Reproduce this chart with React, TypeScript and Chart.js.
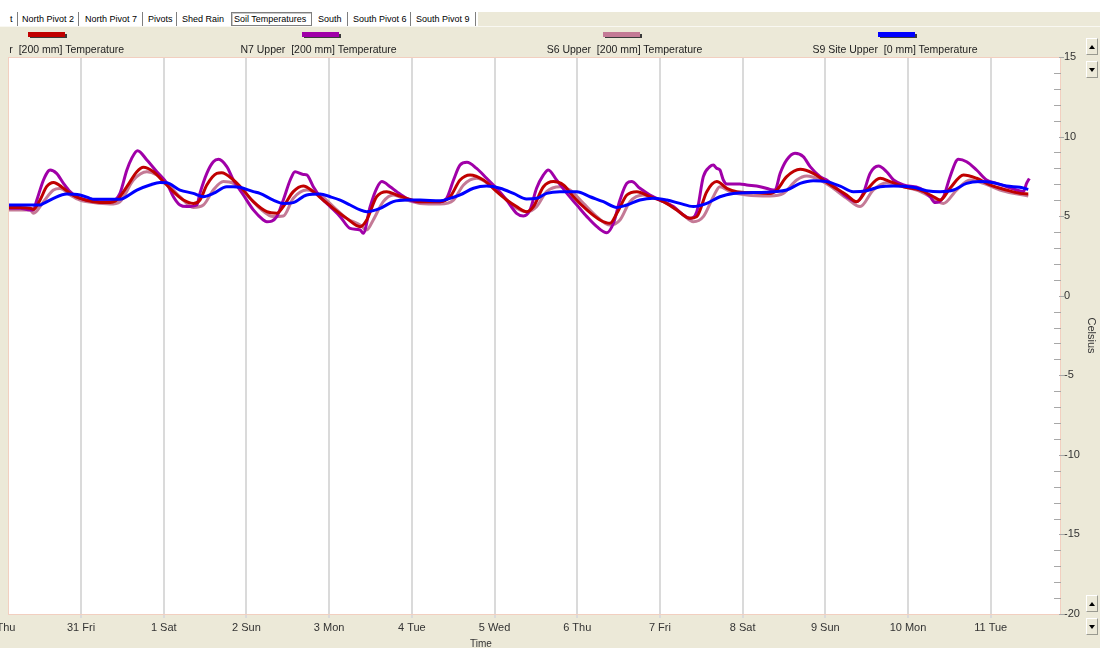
import React, { useEffect, useRef } from 'react';
import { Chart, registerables } from 'chart.js';

Chart.register(...registerables);

// ---------- data ----------
const xTickLabels = ['30 Thu', '31 Fri', '1 Sat', '2 Sun', '3 Mon', '4 Tue', '5 Wed', '6 Thu', '7 Fri', '8 Sat', '9 Sun', '10 Mon', '11 Tue'];
const dayHours = [0, 24, 48, 72, 96, 120, 144, 168, 192, 216, 240, 264, 288];
const yTickValues = [-20, -15, -10, -5, 0, 5, 10, 15];

const seriesNames = [
  'N2 Upper  [200 mm] Temperature',
  'N7 Upper  [200 mm] Temperature',
  'S6 Upper  [200 mm] Temperature',
  'S9 Site Upper  [0 mm] Temperature',
];

// [hour since 30 Thu 00:00, Celsius]
const n2Upper: [number, number][] = [
  [2, 5.55], [6.3, 5.55], [9.2, 5.5], [10.2, 5.43], [12.1, 6.01], [14.0, 6.85], [16.0, 7.12], [18.9, 6.75], [20.8, 6.43], [23.7, 6.12],
  [27.6, 5.91], [31.5, 5.85], [34.4, 6.01], [37.3, 6.85], [40.2, 7.79], [42.1, 8.07], [45.0, 7.79], [47.9, 7.17], [50.8, 6.54], [53.7, 6.01],
  [56.6, 5.8], [58.5, 6.01], [60.5, 6.96], [63.4, 7.69], [64.8, 7.73], [68.2, 7.27], [71.1, 6.64], [74.0, 5.91], [77.9, 5.28], [80.8, 5.18],
  [82.7, 5.6], [85.6, 6.54], [88.5, 6.89], [91.4, 6.54], [94.3, 6.01], [97.2, 5.49], [101.1, 4.86], [105.0, 4.34],
  [106.9, 4.76], [109.8, 6.22], [112.7, 6.54], [115.6, 6.33], [118.5, 6.12], [122.4, 5.91], [128.2, 5.91], [131.1, 6.22], [134.0, 7.27], [136.9, 7.59],
  [140.8, 7.27], [144.6, 6.54], [147.5, 6.01], [150.4, 5.6], [153.3, 5.28], [155.3, 5.6], [158.2, 6.85], [161.1, 7.17], [164.0, 6.96], [166.9, 6.22],
  [170.8, 5.39], [174.6, 4.76], [177.5, 4.55], [179.5, 5.18], [182.4, 6.33], [185.3, 6.54], [189.1, 6.22], [193.0, 5.91], [196.9, 5.39], [200.7, 4.86],
  [202.7, 4.97], [205.6, 6.54], [208.5, 7.17], [211.4, 6.75], [214.3, 6.54], [219.1, 6.48], [224.0, 6.43], [225.9, 6.64], [228.8, 7.48], [232.7, 7.94],
  [236.5, 7.69], [239.4, 7.27], [242.3, 6.85], [246.2, 6.33], [249.1, 5.91], [252.0, 6.64], [255.9, 7.38], [258.8, 7.17], [262.7, 6.85], [267.5, 6.64],
  [271.4, 6.22], [273.3, 6.01], [276.2, 6.75], [280.1, 7.59], [283.9, 7.38], [287.8, 6.96], [292.6, 6.64], [296.5, 6.43], [298.9, 6.39],
];

const n7Upper: [number, number][] = [
  [2, 5.5], [6.3, 5.49], [9.2, 5.39], [10.2, 5.39], [11.1, 5.97], [13.1, 7.27], [14.5, 7.84], [15.0, 7.9], [16.9, 7.69], [18.9, 7.06],
  [20.8, 6.54], [22.7, 6.22], [25.7, 6.01], [29.5, 5.91], [32.4, 5.91], [33.9, 6.01], [35.3, 6.43], [37.3, 7.9], [38.7, 8.63], [40.4, 9.11],
  [43.1, 8.53], [46.0, 7.79], [48.9, 7.06], [50.8, 6.22], [52.7, 5.7], [54.7, 5.6], [57.6, 5.7], [58.5, 6.43], [60.5, 7.69], [62.4, 8.42],
  [63.9, 8.57], [66.3, 8.11], [68.2, 7.27], [71.1, 6.33], [74.0, 5.39], [76.9, 4.76], [77.9, 4.65], [80.8, 4.97], [82.7, 6.01], [84.7, 7.27],
  [86.1, 7.79], [88.5, 7.62], [89.5, 7.59], [91.4, 6.85], [93.4, 6.22], [96.3, 5.6], [99.2, 4.97], [102.1, 4.23], [105.0, 4.13], [105.9, 3.92],
  [107.9, 5.6], [109.8, 6.75], [111.3, 7.17], [113.7, 6.85], [115.6, 6.54], [118.5, 6.12], [121.4, 5.91], [124.3, 5.91], [128.2, 5.91], [130.1, 6.12],
  [132.1, 7.27], [134.0, 8.21], [136.0, 8.38], [138.8, 8.0], [141.7, 7.38], [144.6, 6.75], [147.5, 6.01], [150.4, 5.18], [152.4, 5.01], [154.3, 5.39],
  [156.2, 6.75], [158.2, 7.59], [159.6, 7.9], [162.0, 7.27], [165.0, 6.43], [167.9, 5.7], [170.8, 4.97], [173.7, 4.34], [176.6, 3.96], [178.5, 4.55],
  [180.4, 6.01], [182.4, 7.06], [183.8, 7.17], [186.2, 6.75], [189.1, 6.33], [192.0, 6.01], [195.9, 5.6], [198.8, 5.07], [200.7, 4.86], [202.7, 5.28],
  [204.6, 7.48], [206.5, 8.11], [207.5, 8.21], [208.5, 8.0], [209.4, 7.9], [210.4, 7.27], [211.4, 7.02], [215.2, 7.02], [217.2, 6.96], [221.1, 6.85],
  [224.0, 6.68], [225.4, 6.64], [226.9, 7.69], [228.8, 8.53], [231.2, 8.95], [233.6, 8.74], [235.6, 8.11], [238.5, 7.48], [240.4, 7.27], [243.3, 6.75],
  [246.2, 6.22], [249.1, 5.91], [251.0, 6.43], [253.0, 7.69], [255.4, 8.15], [257.8, 7.79], [259.8, 7.27], [262.7, 6.96], [267.5, 6.75], [270.4, 6.22],
  [271.9, 5.85], [274.3, 6.22], [276.2, 7.48], [278.6, 8.57], [281.0, 8.42], [283.9, 7.9], [286.8, 7.27], [289.7, 7.06], [292.6, 6.85], [295.5, 6.64],
  [297.5, 6.54], [298.4, 7.06], [299.2, 7.37],
];

const s6Upper: [number, number][] = [
  [2, 5.39], [6.3, 5.39], [9.2, 5.39], [10.2, 5.18], [13.1, 5.91], [16.0, 6.64], [17.9, 6.73], [20.8, 6.33], [23.7, 6.01], [27.6, 5.85],
  [32.4, 5.76], [35.3, 5.91], [39.2, 7.27], [43.1, 7.79], [46.0, 7.59], [48.9, 7.06], [52.7, 6.22], [56.6, 5.55], [59.5, 5.7], [62.4, 6.64],
  [65.3, 7.17], [68.2, 7.06], [72.1, 6.33], [75.9, 5.49], [79.8, 4.97], [82.7, 5.01], [85.6, 6.12], [89.5, 6.64], [93.4, 6.33], [97.2, 5.6],
  [101.1, 4.86], [105.0, 4.44], [106.9, 4.13], [108.8, 4.76], [111.7, 5.91], [114.6, 6.33], [118.5, 6.01], [122.4, 5.8], [128.2, 5.76], [132.1, 6.01],
  [135.0, 6.96], [138.8, 7.38], [142.7, 6.96], [146.6, 6.22], [150.4, 5.49], [153.3, 5.28], [156.2, 5.6], [159.1, 6.54], [163.0, 6.85], [165.9, 6.64],
  [169.8, 5.8], [173.7, 4.97], [177.5, 4.44], [180.4, 4.76], [183.3, 5.91], [187.2, 6.33], [191.1, 6.12], [194.9, 5.7], [198.8, 5.07], [201.7, 4.65],
  [204.6, 4.97], [207.5, 6.22], [209.4, 6.85], [212.3, 6.54], [217.2, 6.33], [224.0, 6.27], [227.8, 6.43], [231.7, 7.27], [234.6, 7.52], [238.5, 7.27],
  [242.3, 6.75], [246.2, 6.12], [250.1, 5.6], [253.9, 6.64], [257.8, 7.1], [261.7, 6.89], [266.5, 6.64], [271.4, 6.12], [274.3, 5.8], [278.1, 6.64],
  [282.0, 7.27], [285.9, 7.06], [290.7, 6.64], [294.6, 6.43], [298.9, 6.27],
];

const s9SiteUpper: [number, number][] = [
  [2, 5.7], [6.3, 5.7], [12.1, 5.7], [13.1, 5.8], [16.0, 6.12], [19.8, 6.39], [23.7, 6.33], [26.6, 6.12], [27.6, 6.06], [31.5, 6.06],
  [35.3, 6.06], [36.3, 6.12], [40.2, 6.64], [44.0, 6.96], [46.9, 7.12], [48.9, 7.1], [52.7, 6.64], [56.6, 6.43], [59.5, 6.22], [62.4, 6.43],
  [66.3, 6.85], [68.2, 6.85], [70.1, 6.81], [74.0, 6.54], [75.9, 6.43], [79.8, 6.01], [82.7, 5.8], [85.6, 5.85], [89.5, 6.33], [93.4, 6.39],
  [96.3, 6.22], [99.2, 6.01], [102.1, 5.7], [105.0, 5.39], [106.9, 5.28], [110.8, 5.49], [114.6, 5.91], [118.5, 6.01], [122.4, 6.01], [128.2, 5.97],
  [131.1, 6.12], [134.0, 6.33], [137.9, 6.75], [141.7, 6.89], [145.6, 6.75], [149.5, 6.43], [153.3, 6.08], [156.2, 6.12], [159.1, 6.43], [163.0, 6.54],
  [167.9, 6.54], [171.7, 6.22], [175.6, 5.91], [179.5, 5.55], [182.4, 5.7], [186.2, 6.01], [190.1, 6.12], [194.0, 6.01], [197.8, 5.8], [201.7, 5.6],
  [205.6, 5.8], [209.4, 6.22], [213.3, 6.43], [219.1, 6.48], [224.9, 6.54], [228.8, 6.64], [232.7, 7.06], [236.5, 7.23], [240.4, 7.17], [244.3, 6.89],
  [248.1, 6.54], [252.0, 6.6], [255.9, 6.85], [259.8, 6.89], [265.5, 6.81], [269.4, 6.6], [273.3, 6.54], [277.2, 6.64], [281.0, 7.06], [284.9, 7.17],
  [288.8, 7.1], [292.6, 6.89], [296.5, 6.81], [298.9, 6.68],
];

const tabNames = ['t', 'North Pivot 2', 'North Pivot 7', 'Pivots', 'Shed Rain', 'Soil Temperatures', 'South', 'South Pivot 6', 'South Pivot 9'];

// ---------- styling / layout ----------
const seriesColors = ['#C00000', '#A000A8', '#C47A96', '#0000FF'];
const seriesOrder = [1, 2, 3, 0];
const FONT = '"Liberation Sans", Arial, sans-serif';
const BEIGE = '#ECE9D8';
const X_MIN = 2.8;
const X_MAX = 308.4;
const Y_MIN = -20;
const Y_MAX = 15;

const tabLefts = [10, 22, 85, 148, 182, 234, 318, 353, 416];
const tabSeps = [17, 78, 142, 176, 347, 410, 475];
const swatchLefts = [28, 302, 603, 878];
const legendCenters = [46, 318.5, 624.5, 895];

const framePlugin = {
  id: 'frame',
  beforeDraw(chart: any) {
    const { ctx, chartArea: a, width, height } = chart;
    ctx.save();
    ctx.fillStyle = BEIGE;
    ctx.fillRect(0, 0, width, height);
    ctx.fillStyle = '#FFFFFF';
    ctx.fillRect(a.left, a.top, a.right - a.left, a.bottom - a.top);
    ctx.restore();
  },
  afterDraw(chart: any) {
    const { ctx, chartArea: a } = chart;
    const ys = chart.scales.y;
    ctx.save();
    ctx.strokeStyle = '#F2CFC0';
    ctx.lineWidth = 1;
    ctx.strokeRect(a.left + 0.5, a.top + 0.5, a.right - a.left - 1, a.bottom - a.top);
    ctx.strokeStyle = '#A8A8A8';
    for (let v = Y_MIN; v <= Y_MAX; v++) {
      const y = Math.round(ys.getPixelForValue(v)) + 0.5;
      const major = v % 5 === 0;
      ctx.beginPath();
      ctx.moveTo(major ? a.right - 2 : a.right - 7, y);
      ctx.lineTo(major ? a.right + 3 : a.right, y);
      ctx.stroke();
    }
    ctx.restore();
  },
};

function ScrollButton({ left, top, up }: { left: number; top: number; up: boolean }) {
  return (
    <div
      style={{
        position: 'absolute', left, top, width: 12, height: 17, background: BEIGE,
        borderTop: '1px solid #FFFFFF', borderLeft: '1px solid #FFFFFF',
        borderRight: '1px solid #9A9A90', borderBottom: '1px solid #9A9A90',
        boxSizing: 'border-box',
      }}
    >
      <div
        style={{
          position: 'absolute', left: 1.5, top: 5.5, width: 0, height: 0,
          borderLeft: '3.5px solid transparent', borderRight: '3.5px solid transparent',
          ...(up ? { borderBottom: '4px solid #000' } : { borderTop: '4px solid #000' }),
        }}
      />
    </div>
  );
}

export default function App() {
  const canvasRef = useRef<HTMLCanvasElement | null>(null);

  useEffect(() => {
    const canvas = canvasRef.current;
    if (!canvas) return;
    const series = [n2Upper, n7Upper, s6Upper, s9SiteUpper];
    const chart = new Chart(canvas, {
      type: 'line',
      data: {
        datasets: series.map((s, i) => ({
          label: seriesNames[i],
          data: s.map(([x, y]) => ({ x, y })),
          borderColor: seriesColors[i],
          backgroundColor: seriesColors[i],
          borderWidth: 3,
          pointRadius: 0,
          cubicInterpolationMode: 'monotone' as const,
          order: seriesOrder[i],
          fill: false,
        })),
      },
      options: {
        responsive: false,
        animation: false,
        events: [],
        layout: { padding: { left: 8, top: 57, right: 0, bottom: 0 }, autoPadding: false },
        plugins: { legend: { display: false }, tooltip: { enabled: false }, title: { display: false } },
        scales: {
          x: {
            type: 'linear',
            min: X_MIN,
            max: X_MAX,
            afterBuildTicks: (s: any) => { s.ticks = dayHours.map((value) => ({ value })); },
            afterFit: (s: any) => { s.height = 34; s.paddingLeft = 0; s.paddingRight = 0; },
            ticks: {
              autoSkip: false, maxRotation: 0, minRotation: 0, padding: 3, color: '#333',
              font: { family: FONT, size: 11 },
              callback: (_v: any, i: number) => xTickLabels[i] ?? '',
            },
            grid: { color: '#DADADA', lineWidth: 2, tickLength: 4, drawOnChartArea: true },
            border: { display: false },
          },
          y: {
            type: 'linear',
            position: 'right',
            min: Y_MIN,
            max: Y_MAX,
            afterBuildTicks: (s: any) => { s.ticks = yTickValues.map((value) => ({ value })); },
            afterFit: (s: any) => { s.width = 39; s.paddingTop = 0; s.paddingBottom = 0; },
            ticks: {
              autoSkip: false, padding: 3, color: '#333',
              font: { family: FONT, size: 11 },
              callback: (v: any) => String(v),
            },
            grid: { display: false, drawTicks: false },
            border: { display: false },
            title: { display: true, text: 'Celsius', color: '#333', font: { family: FONT, size: 11 }, padding: { top: 2, bottom: 0 } },
          },
        },
      },
      plugins: [framePlugin],
    });
    return () => chart.destroy();
  }, []);

  return (
    <div style={{ position: 'fixed', left: 0, top: 0, width: 1100, height: 648, overflow: 'hidden', background: BEIGE, fontFamily: FONT }}>
      <canvas ref={canvasRef} width={1100} height={648} style={{ position: 'absolute', left: 0, top: 0, width: 1100, height: 648 }} />
      {/* tab strip */}
      <div style={{ position: 'absolute', left: 0, top: 0, width: 1100, height: 12, background: '#FFFFFF' }} />
      <div style={{ position: 'absolute', left: 0, top: 12, width: 478, height: 14, background: '#FFFFFF' }} />
      <div style={{ position: 'absolute', left: 0, top: 26, width: 1100, height: 1, background: '#F9F8F2' }} />
      {tabSeps.map((x) => (
        <div key={x} style={{ position: 'absolute', left: x, top: 12, width: 0, height: 14, borderLeft: '1px solid #7F7F7F', borderRight: '1px solid #FFFFFF' }} />
      ))}
      <div style={{ position: 'absolute', left: 231, top: 12, width: 81, height: 14, boxSizing: 'border-box', border: '1px solid #7F7F7F', boxShadow: 'inset 1px 1px 0 #C8C8C8' }} />
      {tabNames.map((t, i) => (
        <div key={t} style={{ position: 'absolute', left: tabLefts[i], top: 13, fontSize: 9, lineHeight: '12px', color: '#000', whiteSpace: 'pre' }}>{t}</div>
      ))}
      {/* legend */}
      <div style={{ position: 'absolute', left: 10, top: 27, width: 1040, height: 30, overflow: 'hidden' }}>
        {seriesNames.map((name, i) => (
          <React.Fragment key={name}>
            <div style={{ position: 'absolute', left: swatchLefts[i] + 2 - 10, top: 7, width: 37, height: 4, background: '#3A3A3A' }} />
            <div style={{ position: 'absolute', left: swatchLefts[i] - 10, top: 5, width: 37, height: 5, background: seriesColors[i] }} />
            <div style={{ position: 'absolute', left: legendCenters[i] - 10, top: 16, transform: 'translateX(-50%)', whiteSpace: 'pre', fontSize: 10.5, lineHeight: '12px', color: '#222' }}>{name}</div>
          </React.Fragment>
        ))}
      </div>
      {/* axis title */}
      <div style={{ position: 'absolute', left: 470, top: 638, fontSize: 10, lineHeight: '12px', color: '#333' }}>Time</div>
      {/* scroll buttons */}
      <ScrollButton left={1086} top={38} up={true} />
      <ScrollButton left={1086} top={61} up={false} />
      <ScrollButton left={1086} top={595} up={true} />
      <ScrollButton left={1086} top={618} up={false} />
    </div>
  );
}
